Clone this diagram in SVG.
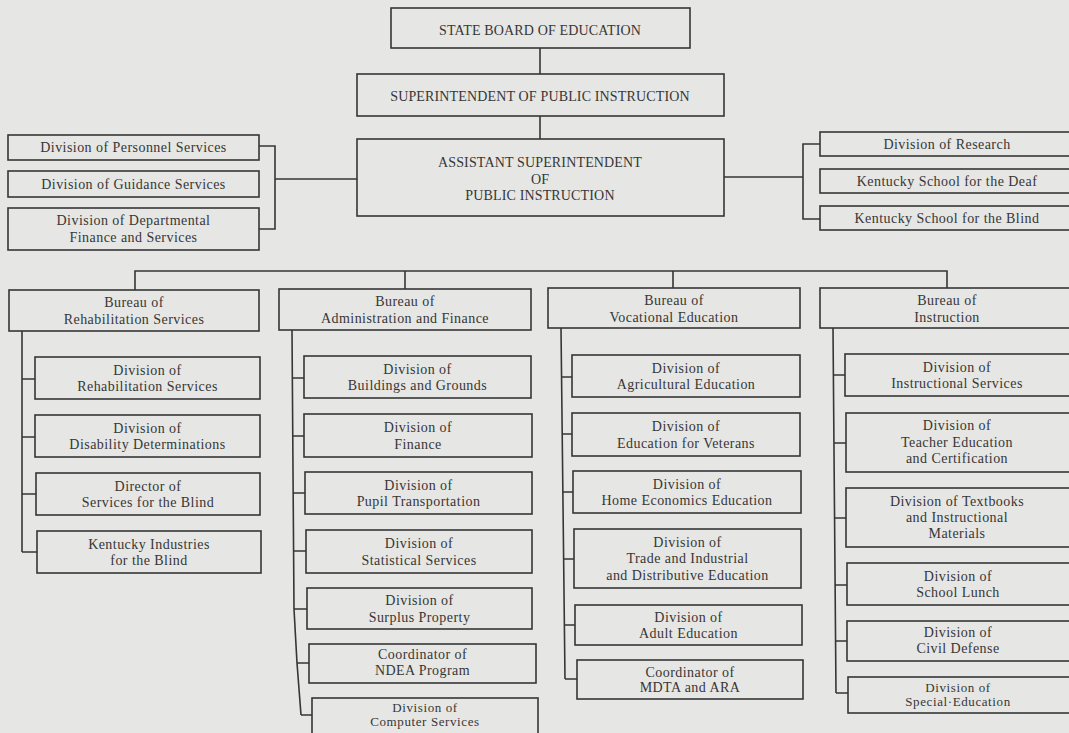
<svg xmlns="http://www.w3.org/2000/svg" width="1069" height="733" viewBox="0 0 1069 733">
<style>
.bx{fill:none;stroke:#363636;stroke-width:1.6}
.cn{fill:none;stroke:#363636;stroke-width:1.6}
text{font-family:"Liberation Serif","Times New Roman",serif;font-size:14px;fill:#363636;text-anchor:middle;letter-spacing:0.45px}
.cap{font-size:14px;letter-spacing:0.15px}
.sm{font-size:13px;letter-spacing:0.6px}
</style>
<rect x="0" y="0" width="1069" height="733" fill="#e6e6e4"/>

<g id="connectors">
<path class="cn" d="M540 48V74M540 116V139"/>
<path class="cn" d="M259 146H275V229H259M275 179H357"/>
<path class="cn" d="M724 177H803M820 144H803V219H820"/>
<path class="cn" d="M135 290V271H947V288M405 271V289M673 271V288"/>
<path class="cn" d="M22 331V552M22 379H35M22 437H35M22 494H36M22 552H37"/>
<path class="cn" d="M292 330L294 609L297 663L301 715M292.5 378H304M293 436H304M293 493H305M294 551H306M294 609H307M297 663H309M301 715H312"/>
<path class="cn" d="M561 328L565 679M561.5 377H572M562 434H572M562.5 492H573M563 559H574M564 625H575M565 679H577"/>
<path class="cn" d="M833 328L836 693M833.2 375H845M833.8 443H846M834.3 518H846M834.8 585H847M835.3 641H847M836 693H848"/>
</g>

<g id="state-board"><rect class="bx" x="391" y="8" width="299" height="40"/><text class="cap" x="540" y="35">STATE BOARD OF EDUCATION</text></g>
<g id="superintendent"><rect class="bx" x="357" y="74" width="367" height="42"/><text class="cap" x="540" y="101">SUPERINTENDENT OF PUBLIC INSTRUCTION</text></g>
<g id="assistant"><rect class="bx" x="357" y="139" width="367" height="77"/><text class="cap" x="540" y="167">ASSISTANT SUPERINTENDENT</text><text class="cap" x="540" y="183.5">OF</text><text class="cap" x="540" y="200">PUBLIC INSTRUCTION</text></g>

<g id="personnel"><rect class="bx" x="8" y="135" width="251" height="25"/><text x="133.5" y="152">Division of Personnel Services</text></g>
<g id="guidance"><rect class="bx" x="8" y="171" width="251" height="26"/><text x="133.5" y="189">Division of Guidance Services</text></g>
<g id="dept-finance"><rect class="bx" x="8" y="208" width="251" height="42"/><text x="133.5" y="225">Division of Departmental</text><text x="133.5" y="241.5">Finance and Services</text></g>

<g id="research"><rect class="bx" x="820" y="132" width="255" height="24"/><text x="947" y="148.5">Division of Research</text></g>
<g id="deaf"><rect class="bx" x="820" y="169" width="255" height="24"/><text x="947" y="186">Kentucky School for the Deaf</text></g>
<g id="blind"><rect class="bx" x="820" y="206" width="255" height="24"/><text x="947" y="223">Kentucky School for the Blind</text></g>

<g id="bureau-rehab"><rect class="bx" x="9" y="290" width="250" height="41"/><text x="134" y="307">Bureau of</text><text x="134" y="323.5">Rehabilitation Services</text></g>
<g id="bureau-admin"><rect class="bx" x="279" y="289" width="252" height="41"/><text x="405" y="306">Bureau of</text><text x="405" y="322.5">Administration and Finance</text></g>
<g id="bureau-voc"><rect class="bx" x="548" y="288" width="252" height="40"/><text x="674" y="305">Bureau of</text><text x="674" y="321.5">Vocational Education</text></g>
<g id="bureau-instr"><rect class="bx" x="820" y="288" width="255" height="40"/><text x="947" y="305">Bureau of</text><text x="947" y="321.5">Instruction</text></g>

<g id="rehab-div"><rect class="bx" x="35" y="357" width="225" height="42"/><text x="147.5" y="374.5">Division of</text><text x="147.5" y="391">Rehabilitation Services</text></g>
<g id="disability"><rect class="bx" x="35" y="415" width="225" height="42"/><text x="147.5" y="432.5">Division of</text><text x="147.5" y="449">Disability Determinations</text></g>
<g id="services-blind"><rect class="bx" x="36" y="473" width="224" height="42"/><text x="148" y="490.5">Director of</text><text x="148" y="507">Services for the Blind</text></g>
<g id="industries-blind"><rect class="bx" x="37" y="531" width="224" height="42"/><text x="149" y="548.5">Kentucky Industries</text><text x="149" y="565">for the Blind</text></g>

<g id="buildings"><rect class="bx" x="304" y="356" width="227" height="42"/><text x="417.5" y="373.5">Division of</text><text x="417.5" y="390">Buildings and Grounds</text></g>
<g id="finance"><rect class="bx" x="304" y="414" width="228" height="43"/><text x="418" y="432">Division of</text><text x="418" y="448.5">Finance</text></g>
<g id="transport"><rect class="bx" x="305" y="472" width="227" height="42"/><text x="418.5" y="489.5">Division of</text><text x="418.5" y="506">Pupil Transportation</text></g>
<g id="statistical"><rect class="bx" x="306" y="530" width="226" height="43"/><text x="419" y="548">Division of</text><text x="419" y="564.5">Statistical Services</text></g>
<g id="surplus"><rect class="bx" x="307" y="588" width="225" height="41"/><text x="419.5" y="605">Division of</text><text x="419.5" y="621.5">Surplus Property</text></g>
<g id="ndea"><rect class="bx" x="309" y="644" width="227" height="39"/><text x="422.5" y="659">Coordinator of</text><text x="422.5" y="674.5">NDEA Program</text></g>
<g id="computer"><rect class="bx" x="312" y="698" width="226" height="45"/><text class="sm" x="425" y="712">Division of</text><text class="sm" x="425" y="725.5">Computer Services</text></g>

<g id="agricultural"><rect class="bx" x="572" y="355" width="228" height="42"/><text x="686" y="372.5">Division of</text><text x="686" y="389">Agricultural Education</text></g>
<g id="veterans"><rect class="bx" x="572" y="413" width="228" height="43"/><text x="686" y="431">Division of</text><text x="686" y="447.5">Education for Veterans</text></g>
<g id="home-ec"><rect class="bx" x="573" y="471" width="228" height="42"/><text x="687" y="488.5">Division of</text><text x="687" y="505">Home Economics Education</text></g>
<g id="trade"><rect class="bx" x="574" y="529" width="227" height="59"/><text x="687.5" y="546.5">Division of</text><text x="687.5" y="563">Trade and Industrial</text><text x="687.5" y="579.5">and Distributive Education</text></g>
<g id="adult"><rect class="bx" x="575" y="605" width="227" height="40"/><text x="688.5" y="621.5">Division of</text><text x="688.5" y="638">Adult Education</text></g>
<g id="mdta"><rect class="bx" x="577" y="660" width="226" height="39"/><text x="690" y="676.5">Coordinator of</text><text x="690" y="692">MDTA and ARA</text></g>

<g id="instructional"><rect class="bx" x="845" y="354" width="230" height="42"/><text x="957" y="371.5">Division of</text><text x="957" y="388">Instructional Services</text></g>
<g id="teacher"><rect class="bx" x="846" y="413" width="229" height="59"/><text x="957" y="430">Division of</text><text x="957" y="446.5">Teacher Education</text><text x="957" y="463">and Certification</text></g>
<g id="textbooks"><rect class="bx" x="846" y="488" width="229" height="59"/><text x="957" y="505.5">Division of Textbooks</text><text x="957" y="522">and Instructional</text><text x="957" y="538">Materials</text></g>
<g id="lunch"><rect class="bx" x="847" y="563" width="228" height="42"/><text x="958" y="580.5">Division of</text><text x="958" y="597">School Lunch</text></g>
<g id="civil"><rect class="bx" x="847" y="621" width="228" height="40"/><text x="958" y="637">Division of</text><text x="958" y="653">Civil Defense</text></g>
<g id="special"><rect class="bx" x="848" y="677" width="227" height="36"/><text class="sm" x="958" y="691.5">Division of</text><text class="sm" x="958" y="705.5">Special·Education</text></g>
</svg>
